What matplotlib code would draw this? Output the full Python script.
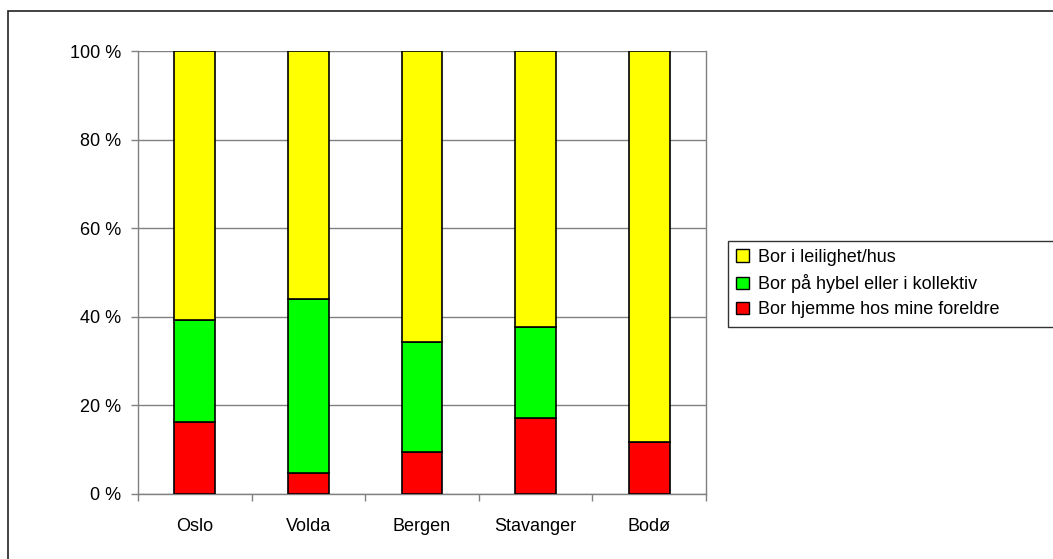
import matplotlib.pyplot as plt
import matplotlib.patches as mpatches
import numpy as np

plt.rcParams['font.family'] = ['Liberation Sans', 'DejaVu Sans']

cities = ['Oslo', 'Volda', 'Bergen', 'Stavanger', 'Bodø']
foreldre = [16.2, 4.7, 9.5, 17.1, 11.8]   # Bor hjemme hos mine foreldre
hybel = [23.0, 39.3, 24.9, 20.7, 0.0]     # Bor på hybel eller i kollektiv
leilighet = [60.8, 56.0, 65.6, 62.2, 88.2]  # Bor i leilighet/hus

fig = plt.figure(figsize=(10.53, 5.59), dpi=100)
W, H = 1053, 559
ax = fig.add_axes([138 / W, (H - 494) / H, (706 - 138) / W, (494 - 51) / H])

# outer chart border (clipped at right/bottom like the original)
fig.patches.append(mpatches.Rectangle((8 / W, -0.1), 1.2, (H - 11) / H + 0.1,
                                      transform=fig.transFigure, fill=False,
                                      edgecolor='#222222', linewidth=1.2))

x = np.arange(len(cities))
w = 0.36
b1 = np.array(foreldre)
b2 = b1 + np.array(hybel)
ax.bar(x, foreldre, w, color='#ff0000', edgecolor='black', linewidth=1.2,
       label='Bor hjemme hos mine foreldre', zorder=3)
ax.bar(x, hybel, w, bottom=b1, color='#00ff00', edgecolor='black', linewidth=1.2,
       label='Bor på hybel eller i kollektiv', zorder=3)
ax.bar(x, leilighet, w, bottom=b2, color='#ffff00', edgecolor='black', linewidth=1.2,
       label='Bor i leilighet/hus', zorder=3)

ax.set_xlim(-0.5, len(cities) - 0.5)
ax.set_ylim(0, 100)
ax.set_yticks(range(0, 101, 20))
ax.set_yticklabels([f'{v} %' for v in range(0, 101, 20)], fontsize=13)
ax.set_xticks(x)
ax.set_xticklabels(cities, fontsize=13)
ax.set_xticks(np.arange(-0.5, len(cities)), minor=True)
ax.tick_params(axis='x', which='major', length=0, pad=17)
ax.tick_params(axis='x', which='minor', length=5, color='#808080', width=1)
ax.tick_params(axis='y', length=5, color='#808080', width=1, pad=7)
ax.yaxis.grid(True, color='#808080', linewidth=1)
ax.set_axisbelow(True)
for s in ax.spines.values():
    s.set_color('#808080')
    s.set_linewidth(1)
ax.spines['top'].set_visible(False)

# legend box runs off the right edge, as in the original
handles, labels = ax.get_legend_handles_labels()
leg = fig.legend(handles[::-1], labels[::-1], loc='upper left', mode='expand',
                 bbox_to_anchor=(728 / W, (H - 327) / H, (1070 - 728) / W, 86 / H),
                 fontsize=13, frameon=True, fancybox=False,
                 handlelength=0.7, handleheight=0.7,
                 handletextpad=0.5, labelspacing=0.45, borderpad=0.45,
                 borderaxespad=0)
leg.get_frame().set_edgecolor('black')
leg.get_frame().set_linewidth(1)
for p in leg.get_patches():
    p.set_linewidth(1)

fig.savefig('out.png', dpi=100)
